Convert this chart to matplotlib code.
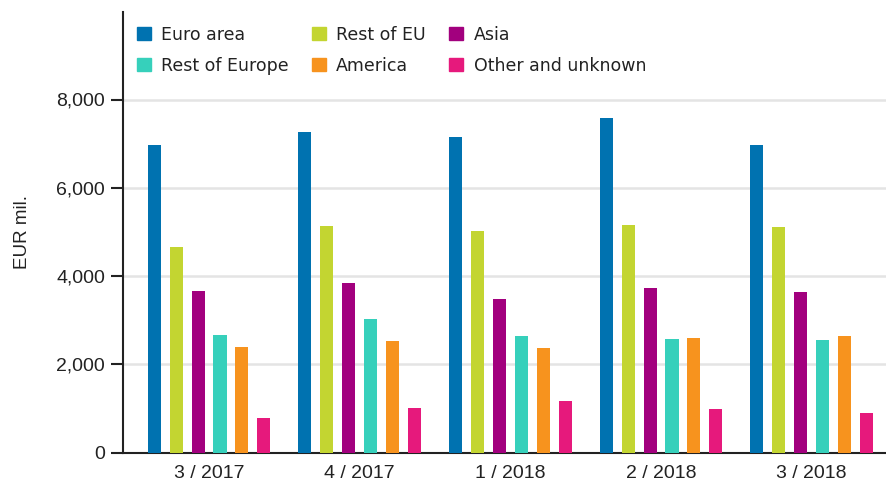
import numpy as np
import matplotlib
matplotlib.use("Agg")
import matplotlib.pyplot as plt
from matplotlib.patches import Patch
from matplotlib.ticker import FuncFormatter

# data (EUR mil.)
quarters = ["3 / 2017", "4 / 2017", "1 / 2018", "2 / 2018", "3 / 2018"]
euro_area = [6980, 7270, 7140, 7570, 6980]
rest_of_eu = [4660, 5140, 5020, 5160, 5120]
asia = [3660, 3850, 3490, 3720, 3640]
rest_of_europe = [2660, 3030, 2640, 2580, 2550]
america = [2380, 2520, 2360, 2600, 2640]
other_unknown = [790, 1000, 1170, 990, 900]

series_names = ["Euro area", "Rest of EU", "Asia", "Rest of Europe", "America", "Other and unknown"]
series_vals = [euro_area, rest_of_eu, asia, rest_of_europe, america, other_unknown]
colors = ["#0072b0", "#c3d531", "#a2007e", "#36d0bb", "#f7931e", "#e6197c"]

W, H = 886, 488
fig = plt.figure(figsize=(W / 100, H / 100), dpi=100)
ax = fig.add_axes([123 / W, 1 - 452.5 / H, 1 - 123 / W, (452.5 - 12) / H])

x = np.arange(len(quarters))
step = 0.1455
width = 0.087
for i, (name, vals, c) in enumerate(zip(series_names, series_vals, colors)):
    ax.bar(x + (i - 2.5) * step, vals, width, color=c, label=name, zorder=3)

ax.set_xlim(-0.571, 4.493)
ax.set_ylim(0, 8000 * (452.5 - 12) / 353)
ax.set_yticks([0, 2000, 4000, 6000, 8000])
ax.yaxis.set_major_formatter(FuncFormatter(lambda v, p: "{:,.0f}".format(v)))
ax.set_xticks(x)
ax.set_xticklabels(quarters)

tick_font = {"family": "Liberation Sans", "size": 13.5}
for lab in ax.get_xticklabels() + ax.get_yticklabels():
    lab.set_fontfamily("Liberation Sans")
    lab.set_fontsize(14)
    lab.set_color("#222222")
ax.tick_params(axis="x", length=0, pad=9)
ax.tick_params(axis="y", length=9, width=1.5, pad=4, color="#222222")
ax.set_ylabel("EUR mil.", fontdict=tick_font, labelpad=18, color="#222222")

ax.grid(axis="y", color="#e4e4e4", linewidth=1.8, zorder=0)
for s in ["top", "right"]:
    ax.spines[s].set_visible(False)
for s in ["left", "bottom"]:
    ax.spines[s].set_linewidth(1.5)
    ax.spines[s].set_color("#222222")

# legend: rows are Euro area / Rest of EU / Asia, then the other three
order = [0, 3, 1, 4, 2, 5]
handles = [Patch(color=colors[k], label=series_names[k]) for k in order]
leg = fig.legend(handles=handles, ncol=3, loc="upper left",
                 bbox_to_anchor=(128 / W, 1 - 17 / H), frameon=False,
                 prop={"family": "DejaVu Sans", "size": 12.5},
                 handlelength=0.8, handleheight=0.75, handletextpad=0.6,
                 columnspacing=1.35, labelspacing=0.75, borderpad=0)
for t in leg.get_texts():
    t.set_color("#222222")

fig.savefig("out.png", dpi=100)
